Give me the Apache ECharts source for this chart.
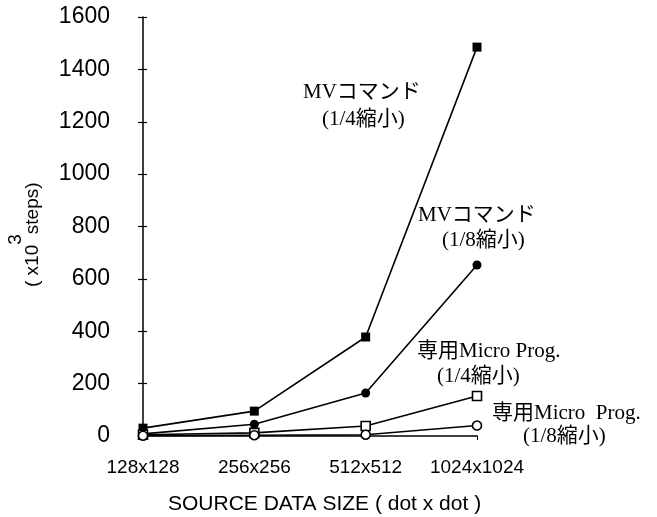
<!DOCTYPE html>
<html>
<head>
<meta charset="utf-8">
<script src="https://cdn.jsdelivr.net/npm/echarts@6/dist/echarts.min.js"></script>
<style>
  html, body { margin: 0; padding: 0; background: #fff; }
  #chart { width: 657px; height: 517px; }
</style>
</head>
<body>
<div id="chart"></div>
<script>
// source data sizes (dot x dot)
const categories = ["128x128", "256x256", "512x512", "1024x1024"];
// steps, x10^3
const mv14 = [30, 95, 378, 1485];     // MVコマンド (1/4縮小)
const mv18 = [8, 45, 164, 653];       // MVコマンド (1/8縮小)
const micro14 = [5, 12, 38, 153];     // 専用Micro Prog. (1/4縮小)
const micro18 = [1, 3, 5, 40];        // 専用Micro Prog. (1/8縮小)
const yTicks = [0, 200, 400, 600, 800, 1000, 1200, 1400, 1600];

const serif = "'Liberation Serif', 'Noto Sans CJK JP', serif";
const sans = "'Liberation Sans', Arial, sans-serif";

let chart = echarts.init(document.getElementById("chart"));

function line(name, data, symbol, filled, size) {
  return {
    name: name,
    type: "line",
    data: data,
    symbol: symbol,
    symbolSize: size,
    showSymbol: true,
    lineStyle: { color: "#000", width: 1.6 },
    itemStyle: {
      color: filled ? "#000" : "#fff",
      borderColor: "#000",
      borderWidth: filled ? 0 : 1.6
    },
    z: filled ? 3 : 4,
    animation: false
  };
}

function label(x, y, text) {
  return {
    type: "text",
    left: x,
    top: y,
    style: { text: text, font: "21px " + serif, fill: "#000" }
  };
}

let option = {
  animation: false,
  grid: { left: 143, right: 180, top: 17, bottom: 81 },
  xAxis: {
    type: "category",
    data: categories,
    boundaryGap: false,
    axisLine: { lineStyle: { color: "#000", width: 1.5 } },
    axisTick: { show: true, length: 4, interval: 0, lineStyle: { color: "#000" } },
    axisLabel: {
      color: "#000", fontFamily: sans, fontSize: 19, margin: 22,
      interval: 0, hideOverlap: false
    },
    splitLine: { show: false }
  },
  yAxis: [
    {
      type: "value",
      min: yTicks[0],
      max: yTicks[yTicks.length - 1],
      interval: 200,
      axisLine: { show: true, lineStyle: { color: "#000", width: 1.5 } },
      axisTick: { show: true, length: 5, lineStyle: { color: "#000", width: 1.2 } },
      axisLabel: {
        color: "#000", fontFamily: sans, fontSize: 23, margin: 33,
        formatter: function (v) { return String(v); }
      },
      splitLine: { show: false }
    },
    {
      // inner half of the crossing ticks
      type: "value",
      position: "left",
      min: yTicks[0],
      max: yTicks[yTicks.length - 1],
      interval: 200,
      axisLine: { show: false },
      axisTick: { show: true, inside: true, length: 4, lineStyle: { color: "#000", width: 1.2 } },
      axisLabel: { show: false },
      splitLine: { show: false }
    }
  ],
  series: [
    line("MVコマンド (1/4縮小)", mv14, "rect", true, 9),
    line("MVコマンド (1/8縮小)", mv18, "circle", true, 9),
    line("専用Micro Prog. (1/4縮小)", micro14, "rect", false, 9),
    line("専用Micro Prog. (1/8縮小)", micro18, "circle", false, 9)
  ],
  graphic: [
    label(303, 82, "MVコマンド"),
    label(322, 109, "(1/4縮小)"),
    label(418, 205, "MVコマンド"),
    label(442, 230, "(1/8縮小)"),
    label(417, 341, "専用Micro Prog."),
    label(437, 366, "(1/4縮小)"),
    label(492, 403, "専用Micro  Prog."),
    label(523, 426, "(1/8縮小)"),
    {
      type: "text",
      left: 168,
      top: 494,
      style: { text: "SOURCE DATA SIZE ( dot x dot )", font: "21px " + sans, fill: "#000" }
    },
    {
      type: "text",
      x: 6,
      y: 287,
      rotation: Math.PI / 2,
      style: {
        text: "{a|( x10}{s|3}{a|steps)}",
        fill: "#000",
        rich: {
          a: { fontFamily: sans, fontSize: 19, verticalAlign: "bottom", lineHeight: 36 },
          s: { fontFamily: sans, fontSize: 19, verticalAlign: "top", lineHeight: 36 }
        }
      }
    }
  ]
};
chart.setOption(option);
</script>
</body>
</html>
